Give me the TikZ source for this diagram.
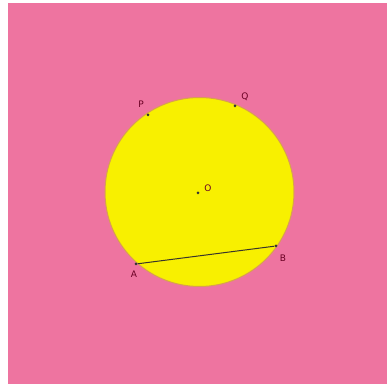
\documentclass[tikz,border=0pt]{standalone}
\usepackage{fontspec}
\setmainfont{DejaVu Sans}
\begin{document}
\begin{tikzpicture}[x=1pt,y=-1pt,
  pt/.style={circle,fill=black!80,inner sep=0pt,minimum size=3pt},
  lbl/.style={font=\fontsize{9}{9}\selectfont,text=purple!55!black,inner sep=0pt}]
\definecolor{bgpink}{HTML}{EE74A0}
\definecolor{sunyellow}{HTML}{F8F000}
\definecolor{rim}{HTML}{D8A050}
\useasboundingbox (0,0) rectangle (392,387);
\fill[white] (0,0) rectangle (392,387);
\fill[bgpink] (8,3) rectangle (387,384);
\node[circle,draw=rim,line width=1pt,fill=sunyellow,minimum size=189pt,inner sep=0pt] (c) at (199.5,192) {};
\node[pt] (O) at (198,193) {};
\node[pt] (P) at (148,115) {};
\node[pt] (Q) at (235,106) {};
\node[pt] (A) at (136,264) {};
\node[pt] (B) at (276,246) {};
\draw[black!80!olive,line width=1pt] (A) -- (B);
\node[lbl] at (208,188) {O};
\node[lbl] at (141,104) {P};
\node[lbl] at (245,97) {Q};
\node[lbl] at (134,274) {A};
\node[lbl] at (283,258) {B};
\end{tikzpicture}
\end{document}
